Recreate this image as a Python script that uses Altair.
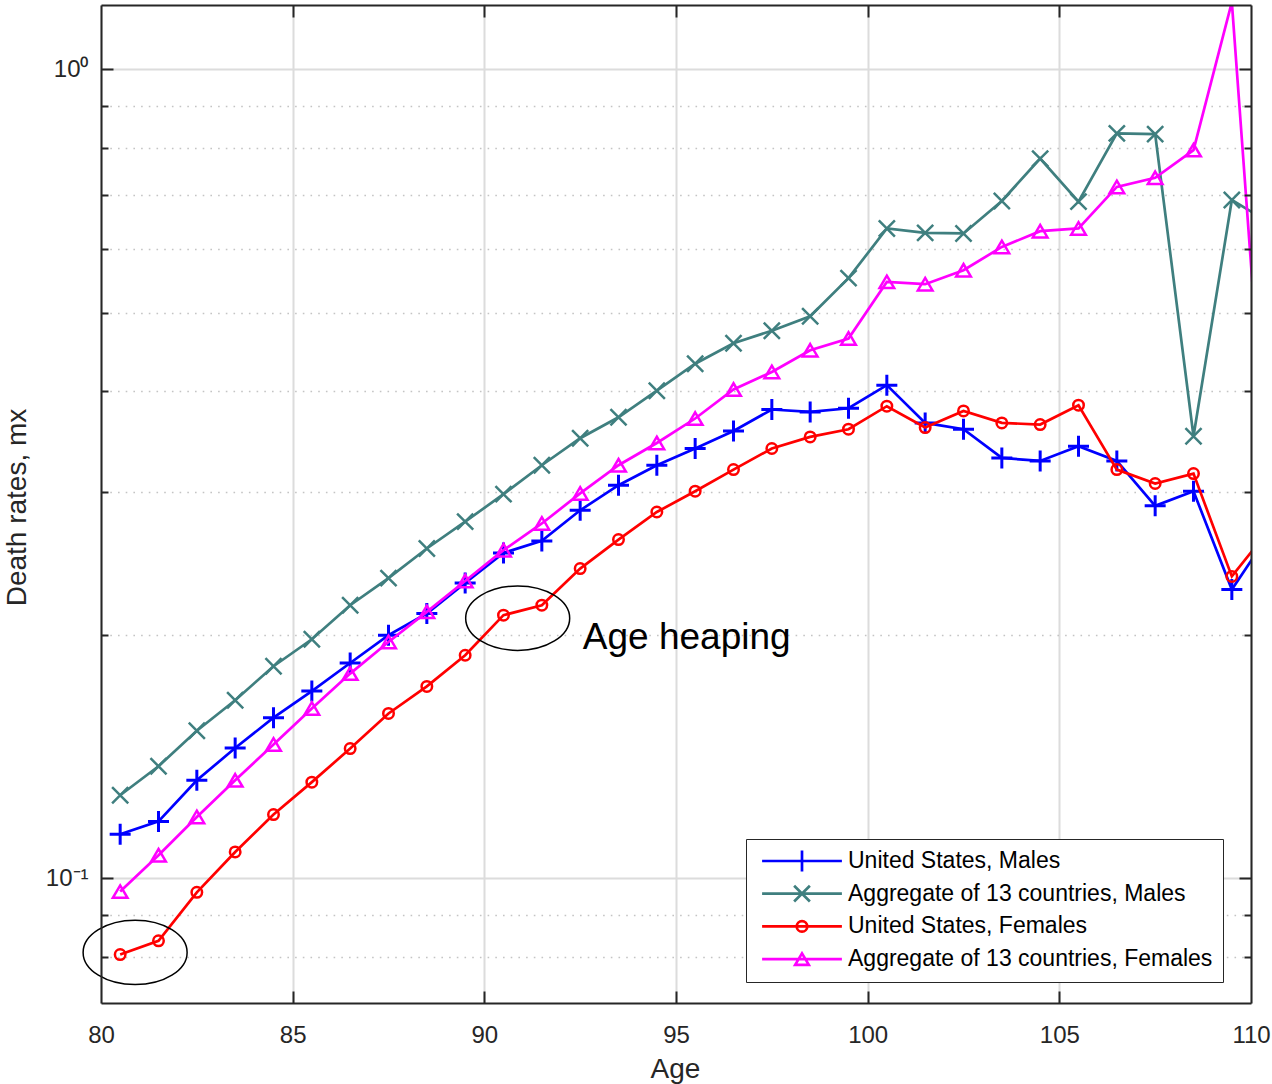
import altair as alt
import pandas as pd

FONT = "Liberation Sans"
AXC = "#262626"

# ---------------- data ----------------
ages = [80.5, 81.5, 82.5, 83.5, 84.5, 85.5, 86.5, 87.5, 88.5, 89.5,
        90.5, 91.5, 92.5, 93.5, 94.5, 95.5, 96.5, 97.5, 98.5, 99.5,
        100.5, 101.5, 102.5, 103.5, 104.5, 105.5, 106.5, 107.5, 108.5, 109.5,
        110.5]

us_males = [0.1134, 0.1176, 0.1322, 0.1449, 0.1580, 0.1704, 0.1846, 0.1998, 0.2125, 0.2318,
            0.2525, 0.2613, 0.2851, 0.3062, 0.3241, 0.3399, 0.3573, 0.3798, 0.3772, 0.3812,
            0.4071, 0.3656, 0.3591, 0.3309, 0.3281, 0.3421, 0.3281, 0.2887, 0.3010, 0.2275,
            0.2678]
agg_males = [0.1267, 0.1376, 0.1522, 0.1660, 0.1829, 0.1975, 0.2176, 0.2350, 0.2557, 0.2760,
             0.2985, 0.3241, 0.3500, 0.3715, 0.4007, 0.4327, 0.4587, 0.4753, 0.4953, 0.5520,
             0.6359, 0.6279, 0.6269, 0.6876, 0.7757, 0.6863, 0.8335, 0.8318, 0.3520, 0.6895,
             0.6460]
us_females = [0.0805, 0.0837, 0.0961, 0.1078, 0.1199, 0.1315, 0.1447, 0.1599, 0.1727, 0.1887,
              0.2115, 0.2176, 0.2415, 0.2623, 0.2837, 0.3010, 0.3201, 0.3399, 0.3513, 0.3591,
              0.3834, 0.3608, 0.3783, 0.3656, 0.3639, 0.3845, 0.3201, 0.3077, 0.3165, 0.2362,
              0.2709]
agg_females = [0.0963, 0.1068, 0.1191, 0.1322, 0.1464, 0.1622, 0.1791, 0.1960, 0.2135, 0.2331,
               0.2545, 0.2746, 0.2991, 0.3241, 0.3453, 0.3702, 0.4021, 0.4227, 0.4496, 0.4649,
               0.5462, 0.5426, 0.5646, 0.6033, 0.6310, 0.6359, 0.7157, 0.7345, 0.7947, 1.2110,
               0.2724]

series_names = ["United States, Males", "Aggregate of 13 countries, Males",
                "United States, Females", "Aggregate of 13 countries, Females"]
series_values = [us_males, agg_males, us_females, agg_females]
series_colors = ["#0000FF", "#3F7F7F", "#FF0000", "#FF00FF"]

# markers
marker_shapes = ["M-1,0L1,0M0,-1L0,1", "M-1,-1L1,1M-1,1L1,-1", "circle", "M0,-0.85L1,0.85L-1,0.85Z"]
marker_sizes = [441, 260, 110, 215]
marker_widths = [3, 2.5, 2.5, 2.5]
legend_shapes = [
    "M-3.8,0L3.8,0M0,-1L0,1",
    "M-3.8,0L3.8,0M-0.75,-0.75L0.75,0.75M-0.75,0.75L0.75,-0.75",
    "M-3.8,0L3.8,0M-0.5,0A0.5,0.5,0,1,1,0.5,0A0.5,0.5,0,1,1,-0.5,0",
    "M-3.8,0L3.8,0M0,-0.55L0.65,0.55L-0.65,0.55Z",
]

# annotations
ellipse_age = [80.89, 90.87]
ellipse_val = [0.0810, 0.2097]
ann_age = [92.57]
ann_val = [0.1923]
ann_text = ["Age heaping"]

x_major = [80, 85, 90, 95, 100, 105, 110]
x_inner = [85, 90, 95, 100, 105]
y_major = [0.1, 1]
y_minor = [0.08, 0.09, 0.2, 0.3, 0.4, 0.5, 0.6, 0.7, 0.8, 0.9]

W, H = 1150, 998
xs = alt.Scale(domain=[80, 110], nice=False, zero=False)
ys = alt.Scale(type="log", domain=[0.07013, 1.2012], nice=False)

dummy = pd.DataFrame({"age": [95.0], "value": [0.3]})


def axis_layer(xaxis, yaxis):
    return alt.Chart(dummy).mark_point(opacity=0).encode(
        x=alt.X("age:Q", scale=xs, axis=xaxis),
        y=alt.Y("value:Q", scale=ys, axis=yaxis),
    )


common = dict(title=None, labelFont=FONT, domainColor=AXC, domainWidth=2,
              tickColor=AXC, tickWidth=2)

# grid layers
g1 = axis_layer(
    alt.Axis(values=x_major, grid=True, gridColor="#dcdcdc", gridWidth=2, ticks=False,
             labels=False, domain=False, title=None, zindex=0),
    alt.Axis(values=y_major, grid=True, gridColor="#dcdcdc", gridWidth=2, ticks=False,
             labels=False, domain=False, title=None, zindex=0),
)
g2 = axis_layer(
    None,
    alt.Axis(values=y_minor, grid=True, gridColor="#c4c4c4", gridWidth=1.5, gridDash=[1.6, 6.1],
             ticks=False, labels=False, domain=False, title=None, zindex=0),
)

# labels + bottom/left borders
a1 = axis_layer(
    alt.Axis(orient="bottom", values=x_major, ticks=False, tickSize=0, labelPadding=20,
             labelFont=FONT, labelFontSize=24, labelColor=AXC, labelFlush=False,
             labelOverlap=False, domain=True, domainColor=AXC, domainWidth=2, grid=False,
             title="Age", titleFont=FONT, titleFontSize=28, titleFontWeight="normal",
             titleColor=AXC, titleX=574, titleY=74, titleAlign="center",
             titleBaseline="alphabetic", zindex=1),
    alt.Axis(orient="left", values=y_major,
             labelExpr="datum.value > 0.5 ? '10\u2070' : '10\u207b\u00b9'",
             ticks=False, tickSize=0, labelPadding=13, labelFont=FONT, labelFontSize=24,
             labelColor=AXC, labelFlush=False, labelOverlap=False, domain=True,
             domainColor=AXC, domainWidth=2, grid=False,
             title="Death rates, mx", titleFont=FONT, titleFontSize=28,
             titleFontWeight="normal", titleColor=AXC, titleX=-84, titleY=502,
             titleAngle=270, titleAlign="center", titleBaseline="middle", zindex=1),
)
# inward ticks at bottom and left
a2 = axis_layer(
    alt.Axis(orient="top", offset=-H, values=x_inner, tickSize=12, labels=False,
             domain=False, grid=False, zindex=1, **common),
    alt.Axis(orient="right", offset=-W, values=y_major, tickSize=12, labels=False,
             domain=False, grid=False, zindex=1, **common),
)
# top/right borders with inward ticks
a3 = axis_layer(
    alt.Axis(orient="bottom", offset=-H, values=x_inner, tickSize=12, labels=False,
             domain=True, grid=False, zindex=1, **common),
    alt.Axis(orient="left", offset=-W, values=y_major, tickSize=12, labels=False,
             domain=True, grid=False, zindex=1, **common),
)
a4 = axis_layer(
    None,
    alt.Axis(orient="right", offset=-W, values=y_minor, tickSize=7, labels=False,
             domain=False, grid=False, zindex=1, **common),
)
a5 = axis_layer(
    None,
    alt.Axis(orient="left", offset=-W, values=y_minor, tickSize=7, labels=False,
             domain=False, grid=False, zindex=1, **common),
)

# data layers
data_layers = []
for name, vals, col, shp, sz, sw in zip(series_names, series_values, series_colors,
                                         marker_shapes, marker_sizes, marker_widths):
    d = pd.DataFrame({"age": ages, "value": vals})
    line = alt.Chart(d).mark_line(color=col, strokeWidth=2.7, clip=True).encode(
        x=alt.X("age:Q", scale=xs, axis=None),
        y=alt.Y("value:Q", scale=ys, axis=None),
    )
    pts = alt.Chart(d).transform_filter(
        "datum.age <= 110 && datum.value <= 1.2012"
    ).mark_point(shape=shp, size=sz, filled=False, color=col, strokeWidth=sw,
                 opacity=1, clip=True).encode(
        x=alt.X("age:Q", scale=xs, axis=None),
        y=alt.Y("value:Q", scale=ys, axis=None),
    )
    data_layers += [line, pts]

# legend layer (invisible marks, visible legend)
leg_df = pd.DataFrame({"age": [95.0] * 4, "value": [0.3] * 4, "series": series_names})
leg_props = dict(orient="none", legendX=645, legendY=834, padding=10,
                 strokeColor=AXC, fillColor="white", title=None, labelFont=FONT,
                 labelFontSize=23, labelColor="black", labelLimit=700,
                 symbolSize=441, symbolStrokeWidth=2.7, symbolOpacity=1,
                 symbolFillColor="transparent", symbolOffset=34, labelOffset=34,
                 rowPadding=8.7, clipHeight=24, cornerRadius=0)
legend_layer = alt.Chart(leg_df).mark_point(opacity=0, filled=False, strokeWidth=2.5).encode(
    x=alt.X("age:Q", scale=xs, axis=None),
    y=alt.Y("value:Q", scale=ys, axis=None),
    color=alt.Color("series:N", scale=alt.Scale(domain=series_names, range=series_colors),
                    legend=alt.Legend(**leg_props)),
    shape=alt.Shape("series:N", scale=alt.Scale(domain=series_names, range=legend_shapes),
                    legend=alt.Legend(**leg_props)),
)

# annotations
ell_df = pd.DataFrame({"age": ellipse_age, "value": ellipse_val})
ellipses = alt.Chart(ell_df).mark_point(
    shape="M-1,0A1,0.619,0,1,0,1,0A1,0.619,0,1,0,-1,0Z",
    size=10816, filled=False, color="black", strokeWidth=1.5, opacity=1,
).encode(
    x=alt.X("age:Q", scale=xs, axis=None),
    y=alt.Y("value:Q", scale=ys, axis=None),
)
txt_df = pd.DataFrame({"age": ann_age, "value": ann_val, "text": ann_text})
texts = alt.Chart(txt_df).mark_text(
    align="left", baseline="alphabetic", font=FONT, fontSize=37, color="black"
).encode(
    x=alt.X("age:Q", scale=xs, axis=None),
    y=alt.Y("value:Q", scale=ys, axis=None),
    text="text:N",
)

chart = alt.layer(
    g1, g2, *data_layers, ellipses, texts, a1, a2, a3, a4, a5, legend_layer
).resolve_axis(
    x="independent", y="independent"
).properties(
    width=W, height=H,
    autosize=alt.AutoSizeParams(type="none"),
    padding={"left": 101, "top": 5, "right": 21, "bottom": 81},
).configure_view(stroke=None).configure(background="white")

chart.save("out.html", embed_options={"renderer": "svg", "actions": False})
